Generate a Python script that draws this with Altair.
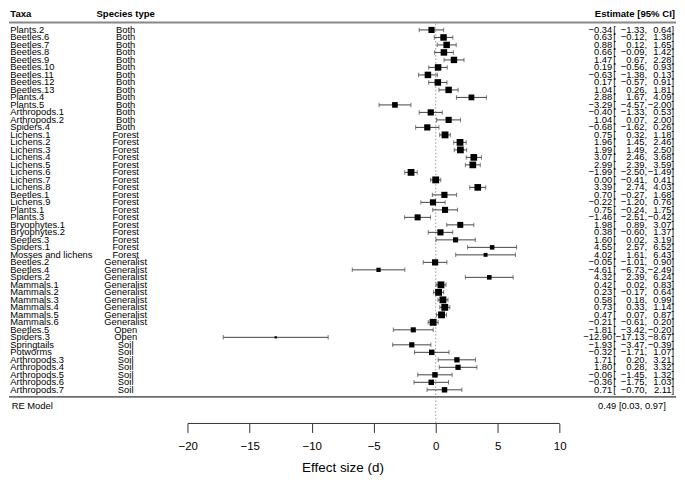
import altair as alt
import pandas as pd

taxa = ["Plants.2", "Beetles.6", "Beetles.7", "Beetles.8", "Beetles.9", "Beetles.10",
        "Beetles.11", "Beetles.12", "Beetles.13", "Plants.4", "Plants.5", "Arthropods.1",
        "Arthropods.2", "Spiders.4",
        "Lichens.1", "Lichens.2", "Lichens.3", "Lichens.4", "Lichens.5", "Lichens.6",
        "Lichens.7", "Lichens.8", "Beetles.1", "Lichens.9", "Plants.1", "Plants.3",
        "Bryophytes.1", "Bryophytes.2", "Beetles.3", "Spiders.1", "Mosses and lichens",
        "Beetles.2", "Beetles.4", "Spiders.2", "Mammals.1", "Mammals.2", "Mammals.3",
        "Mammals.4", "Mammals.5", "Mammals.6",
        "Beetles.5", "Spiders.3",
        "Springtails", "Potworms", "Arthropods.3", "Arthropods.4", "Arthropods.5",
        "Arthropods.6", "Arthropods.7"]
species = (["Both"] * 14 + ["Forest"] * 17 + ["Generalist"] * 9 + ["Open"] * 2 + ["Soil"] * 7)
estimate = [-0.34, 0.63, 0.88, 0.66, 1.47, 0.19, -0.63, 0.17, 1.04, 2.88, -3.29, -0.40, 1.04, -0.68,
            0.75, 1.96, 1.99, 3.07, 2.99, -1.99, 0.00, 3.39, 0.70, -0.22, 0.75, -1.46, 1.98, 0.38,
            1.60, 4.55, 4.02,
            -0.05, -4.61, 4.32, 0.42, 0.23, 0.58, 0.73, 0.47, -0.21,
            -1.81, -12.90,
            -1.93, -0.32, 1.71, 1.80, -0.06, -0.36, 0.71]
lower = [-1.33, -0.12, 0.12, -0.09, 0.67, -0.56, -1.38, -0.57, 0.26, 1.67, -4.57, -1.33, 0.07, -1.62,
         0.32, 1.45, 1.49, 2.46, 2.39, -2.50, -0.41, 2.74, -0.27, -1.20, -0.24, -2.51, 0.89, -0.60,
         0.02, 2.57, 1.61,
         -1.01, -6.73, 2.39, 0.02, -0.17, 0.18, 0.33, 0.07, -0.61,
         -3.42, -17.13,
         -3.47, -1.71, 0.20, 0.28, -1.45, -1.75, -0.70]
upper = [0.64, 1.38, 1.65, 1.42, 2.28, 0.93, 0.13, 0.91, 1.81, 4.09, -2.00, 0.53, 2.00, 0.26,
         1.18, 2.46, 2.50, 3.68, 3.59, -1.49, 0.41, 4.03, 1.68, 0.76, 1.75, -0.42, 3.07, 1.37,
         3.19, 6.52, 6.43,
         0.90, -2.49, 6.24, 0.83, 0.64, 0.99, 1.14, 0.87, 0.20,
         -0.20, -8.67,
         -0.39, 1.07, 3.21, 3.32, 1.32, 1.03, 2.11]
re_label = "0.49 [0.03, 0.97]"
x_ticks = [-20, -15, -10, -5, 0, 5, 10]


def fmt(v):
    return f"{v:.2f}".replace("-", "\u2212")


# weights for square sizes (derived from CI widths)
tau2 = 1.5
w = [1.0 / (((h - l) / 3.92) ** 2 + tau2) for l, h in zip(lower, upper)]
wmin, wmax = min(w), max(w)
side = [4.6 * (0.5 + (wi - wmin) / (wmax - wmin)) for wi in w]

df = pd.DataFrame({
    "r": list(range(1, len(taxa) + 1)),
    "taxa": taxa,
    "species": species,
    "est": estimate,
    "lo": lower,
    "hi": upper,
    "est_t": [fmt(v) for v in estimate],
    "lo_t": [fmt(v) + "," for v in lower],
    "hi_t": [fmt(v) + "]" for v in upper],
    "sz": [s * s for s in side],
})

# layout
W = 669
H = 415
row_top = 20.3
row_step = 7.52
r_min = 1 - row_top / row_step
r_max = 1 + (H - row_top) / row_step
px_per_unit = 12.44
x0_px = 428.0
x_min = -x0_px / px_per_unit
x_max = (W - x0_px) / px_per_unit

FONT = "Liberation Sans, Arial"
FS = 9.4

xscale = alt.Scale(domain=[x_min, x_max], nice=False, zero=False)
yscale = alt.Scale(domain=[r_min, r_max], nice=False, zero=False, reverse=True)
xaxis = alt.Axis(values=x_ticks, domain=False, grid=False, tickSize=9, tickColor="#333",
                 labelFontSize=11.5, labelFont="Liberation Sans", labelColor="black",
                 labelPadding=8, title="Effect size (d)", titleFontSize=13.5,
                 titleFont="Liberation Sans", titleFontWeight="normal", titleColor="black",
                 titlePadding=9, labelFlush=False)
Y = alt.Y("r:Q", scale=yscale, axis=None)

base = alt.Chart(df)
txt = dict(baseline="middle", font=FONT, fontSize=FS, color="black")

t_taxa = base.mark_text(align="left", **txt).encode(x=alt.value(1.3), y=Y, text="taxa:N")
t_sp = base.mark_text(align="center", **txt).encode(x=alt.value(117), y=Y, text="species:N")
t_est = base.mark_text(align="right", **txt).encode(x=alt.value(605), y=Y, text="est_t:N")
t_br = base.mark_text(align="left", text="[", **txt).encode(x=alt.value(606), y=Y)
t_lo = base.mark_text(align="right", **txt).encode(x=alt.value(640), y=Y, text="lo_t:N")
t_hi = base.mark_text(align="right", **txt).encode(x=alt.value(667), y=Y, text="hi_t:N")

ci = base.mark_rule(color="#444", strokeWidth=1).encode(
    x=alt.X("lo:Q", scale=xscale, axis=xaxis), x2="hi:Q", y=Y)
cap_lo = base.mark_tick(orient="vertical", color="#444", size=4.5, thickness=1).encode(
    x=alt.X("lo:Q", scale=xscale, axis=xaxis), y=Y)
cap_hi = base.mark_tick(orient="vertical", color="#444", size=4.5, thickness=1).encode(
    x=alt.X("hi:Q", scale=xscale, axis=xaxis), y=Y)
sq = base.mark_square(filled=True, color="black", opacity=1).encode(
    x=alt.X("est:Q", scale=xscale, axis=xaxis), y=Y, size=alt.Size("sz:Q", scale=None, legend=None))

zero_line = alt.Chart(pd.DataFrame({"z": [0]})).mark_rule(color="#999", strokeDash=[1.5, 2], strokeWidth=1).encode(
    x=alt.X("z:Q", scale=xscale, axis=xaxis), y=alt.value(14), y2=alt.value(H))
axis_line = alt.Chart(pd.DataFrame({"a": [x_ticks[0]], "b": [x_ticks[-1]]})).mark_rule(color="#333", strokeWidth=1).encode(
    x=alt.X("a:Q", scale=xscale, axis=xaxis), x2="b:Q", y=alt.value(H))

one = pd.DataFrame({"k": [0]})
top_line = alt.Chart(one).mark_rule(color="#888", strokeWidth=2).encode(
    x=alt.value(0), x2=alt.value(W), y=alt.value(12.9))
bot_line = alt.Chart(one).mark_rule(color="black", strokeWidth=1).encode(
    x=alt.value(0), x2=alt.value(W), y=alt.value(388.4))

hdr_font = dict(font=FONT, fontSize=9.6, fontWeight="bold", baseline="middle", color="black")
h1 = alt.Chart(one).mark_text(align="left", text="Taxa", **hdr_font).encode(x=alt.value(1.3), y=alt.value(4.8))
h2 = alt.Chart(one).mark_text(align="center", text="Species type", **hdr_font).encode(x=alt.value(117), y=alt.value(4.8))
h3 = alt.Chart(one).mark_text(align="right", text="Estimate [95% CI]", **hdr_font).encode(x=alt.value(668), y=alt.value(4.8))

re1 = alt.Chart(one).mark_text(align="left", text="RE Model", **txt).encode(
    x=alt.value(2.7), y=alt.value(397.4))
re2 = alt.Chart(one).mark_text(align="right", text=re_label, **txt).encode(
    x=alt.value(658.7), y=alt.value(397.4))

chart = alt.layer(
    top_line, bot_line, zero_line, axis_line,
    ci, cap_lo, cap_hi, sq,
    t_taxa, t_sp, t_est, t_br, t_lo, t_hi,
    h1, h2, h3, re1, re2,
).properties(width=W, height=H, padding=0).configure_view(stroke=None)

chart.save("out.html", embed_options={"renderer": "svg", "actions": False})
